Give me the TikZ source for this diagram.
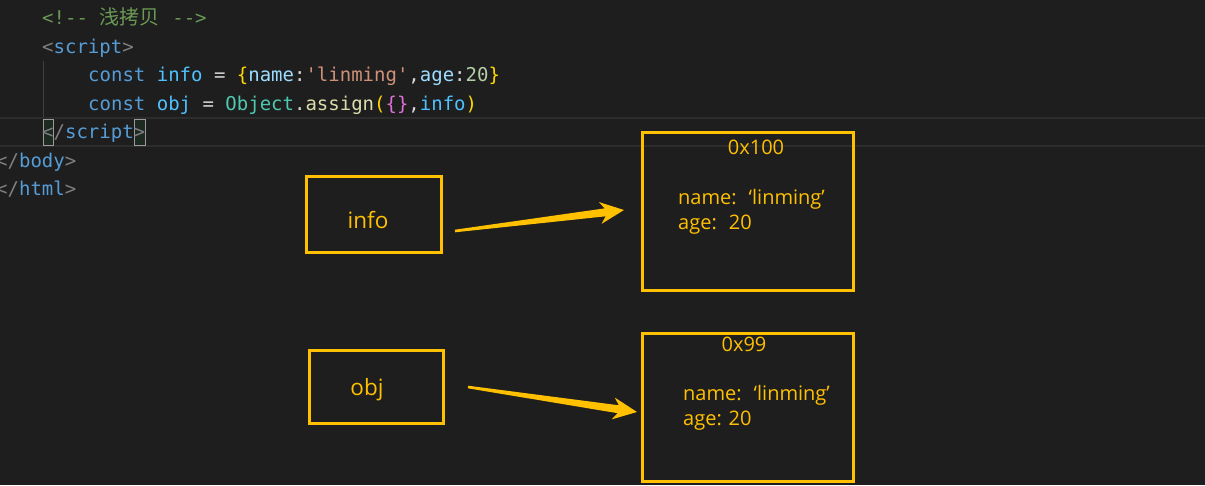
\documentclass[tikz,border=0pt]{standalone}
\usepackage{fontspec}
\usetikzlibrary{calc}
\newfontfamily\codefont{DejaVu Sans Mono}[Ligatures=TeXOff]
\newfontfamily\cjk{Noto Sans CJK SC}
\newfontfamily\boxfont{Open Sans}
\definecolor{bg}{HTML}{1E1E1E}
\definecolor{ylw}{HTML}{FFC000}
\definecolor{cmt}{HTML}{6A9955}
\definecolor{tagb}{HTML}{808080}
\definecolor{kw}{HTML}{569CD6}
\definecolor{cvar}{HTML}{4FC1FF}
\definecolor{var}{HTML}{9CDCFE}
\definecolor{str}{HTML}{CE9178}
\definecolor{num}{HTML}{B5CEA8}
\definecolor{cls}{HTML}{4EC9B0}
\definecolor{fn}{HTML}{DCDCAA}
\definecolor{txt}{HTML}{D4D4D4}
\definecolor{brone}{HTML}{FFD700}
\definecolor{brtwo}{HTML}{DA70D6}
\definecolor{guide}{HTML}{404040}
\definecolor{hl}{HTML}{2C2C2C}
\definecolor{matchfill}{HTML}{1C2A22}
\newcommand\fatarrow[2]{%
  \path ($(#2)!19pt!(#1)$) coordinate (hb) ($(#2)!24pt!(#1)$) coordinate (hk);
  \fill[ylw] ($(#1)!1.3pt!90:(#2)$) -- ($(hb)!4pt!90:(#2)$) -- ($(hk)!11pt!90:(#2)$)
    -- (#2) -- ($(hk)!11pt!-90:(#2)$) -- ($(hb)!4pt!-90:(#2)$) -- ($(#1)!1.3pt!-90:(#2)$) -- cycle;}
\begin{document}
\begin{tikzpicture}[x=1pt,y=-1pt,
  code/.style={anchor=base west,inner sep=0pt,font=\codefont\fontsize{19}{19}\selectfont},
  mbox/.style={draw=ylw,line width=2.8pt,inner sep=0pt},
  btxt/.style={text=ylw,inner sep=0pt,font=\boxfont\fontsize{20}{20}\selectfont},
  vtxt/.style={text=ylw,inner sep=0pt,font=\boxfont\fontsize{22.5}{22.5}\selectfont}]
\fill[bg] (0,0) rectangle (1205,485);
\useasboundingbox (0,0) rectangle (1205,485);
% current line highlight
\draw[hl,line width=2pt] (-2,118) rectangle (1207,146);
% indent guide
\draw[guide,line width=1.5pt] (43.5,61) -- (43.5,117);
% bracket match boxes
\draw[tagb!80,fill=matchfill,line width=0.8pt] (43,119) rectangle (53,145);
\draw[tagb!80,fill=matchfill,line width=0.8pt] (134.5,119) rectangle (145.5,145);
% code
\node[code] (l1) at (42,24.5) {\textcolor{cmt}{<!-- \makebox[61.5pt][l]{\cjk\fontsize{20}{20}\selectfont 浅拷贝} -->}};
\node[code] (l2) at (42,53) {\textcolor{tagb}{<}\textcolor{kw}{script}\textcolor{tagb}{>}};
\node[code] (l3) at (88,81.5) {\textcolor{kw}{const} \textcolor{cvar}{info} \textcolor{txt}{=} \textcolor{brone}{\{}\textcolor{var}{name}\textcolor{txt}{:}\textcolor{str}{'linming'}\textcolor{txt}{,}\textcolor{var}{age}\textcolor{txt}{:}\textcolor{num}{20}\textcolor{brone}{\}}};
\node[code] (l4) at (88,110) {\textcolor{kw}{const} \textcolor{cvar}{obj} \textcolor{txt}{=} \textcolor{cls}{Object}\textcolor{txt}{.}\textcolor{fn}{assign}\textcolor{brone}{(}\textcolor{brtwo}{\{\}}\textcolor{txt}{,}\textcolor{cvar}{info}\textcolor{brone}{)}};
\node[code] (l5) at (42,138.5) {\textcolor{tagb}{</}\textcolor{kw}{script}\textcolor{tagb}{>}};
\node[code] (l6) at (-4,167) {\textcolor{tagb}{</}\textcolor{kw}{body}\textcolor{tagb}{>}};
\node[code] (l7) at (-4,195.5) {\textcolor{tagb}{</}\textcolor{kw}{html}\textcolor{tagb}{>}};
% boxes
\node[mbox,minimum width=135pt,minimum height=76pt] (infobox) at (374,214.5) {};
\node[vtxt,anchor=base] (infotxt) at (368,228) {info};
\node[mbox,minimum width=134pt,minimum height=73pt] (objbox) at (376.5,387) {};
\node[vtxt,anchor=base] (objtxt) at (367,395) {obj};
\node[mbox,minimum width=211pt,minimum height=158pt] (mem1) at (748,211.5) {};
\node[btxt,anchor=base] (addr1) at (756,154) {0x100};
\node[btxt,anchor=base west] (name1) at (678,204) {name:\hspace{0.6em}‘linming’};
\node[btxt,anchor=base west] (age1) at (678,229) {age:\hspace{0.6em}20};
\node[mbox,minimum width=211pt,minimum height=148pt] (mem2) at (748,407.5) {};
\node[btxt,anchor=base] (addr2) at (744,351) {0x99};
\node[btxt,anchor=base west] (name2) at (683,400) {name:\hspace{0.6em}‘linming’};
\node[btxt,anchor=base west] (age2) at (683,425) {age: 20};
% arrows
\coordinate (t1) at (455,231);
\coordinate (p1) at (624,210);
\coordinate (t2) at (468,387);
\coordinate (p2) at (637,412);
\fatarrow{t1}{p1}
\fatarrow{t2}{p2}
\end{tikzpicture}
\end{document}
